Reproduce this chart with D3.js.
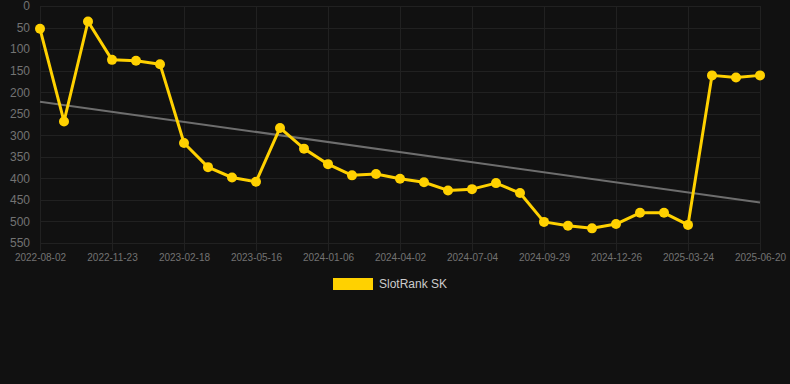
<!DOCTYPE html>
<html>
<head>
<meta charset="utf-8">
<script src="https://cdn.jsdelivr.net/npm/d3@7"></script>
<style>
  html, body { margin: 0; padding: 0; background: #111111; }
  #chart { width: 790px; height: 384px; }
</style>
</head>
<body>
<div id="chart"></div>
<script>
// category dates (x axis)
const dates = [
  "2022-08-02", "2022-09-09", "2022-10-16", "2022-11-23", "2022-12-22", "2023-01-20",
  "2023-02-18", "2023-03-19", "2023-04-17", "2023-05-16", "2023-07-28", "2023-10-17",
  "2024-01-06", "2024-02-04", "2024-03-04", "2024-04-02", "2024-05-03", "2024-06-03",
  "2024-07-04", "2024-08-02", "2024-08-31", "2024-09-29", "2024-10-28", "2024-11-27",
  "2024-12-26", "2025-01-24", "2025-02-22", "2025-03-24", "2025-04-22", "2025-05-21",
  "2025-06-20"
];

// SlotRank SK rank per date
const ranks = [
  53, 268, 36, 125, 127, 135,
  318, 374, 398, 408, 283, 331,
  367, 393, 390, 401, 409, 428,
  425, 411, 434, 501, 510, 516,
  506, 480, 480, 508, 161, 166,
  161
];

// trend line end values (first and last date)
const trend = [222, 456];

const yTicks = [0, 50, 100, 150, 200, 250, 300, 350, 400, 450, 500, 550];
const xTicks = dates.filter((d, i) => i % 3 === 0);

const width = 790, height = 384;
const plot = {left: 40, right: 760, top: 6, bottom: 243};

const svg = d3.select("#chart")
  .append("svg")
    .attr("width", width)
    .attr("height", height)
    .style("font-family", "'Liberation Sans', Arial, sans-serif");

svg.append("rect")
  .attr("width", width)
  .attr("height", height)
  .attr("fill", "#111111");

const x = d3.scalePoint()
  .domain(dates)
  .range([plot.left, plot.right]);

const y = d3.scaleLinear()
  .domain([0, 550])
  .range([plot.top, plot.bottom]);

// grid lines
const grid = svg.append("g").attr("stroke", "#212121").attr("stroke-width", 1);
grid.selectAll(".hg")
  .data(yTicks)
  .enter()
  .append("line")
    .attr("x1", plot.left)
    .attr("x2", plot.right)
    .attr("y1", d => Math.round(y(d)) + 0.5)
    .attr("y2", d => Math.round(y(d)) + 0.5);
grid.selectAll(".vg")
  .data(xTicks)
  .enter()
  .append("line")
    .attr("x1", d => Math.round(x(d)) + 0.5)
    .attr("x2", d => Math.round(x(d)) + 0.5)
    .attr("y1", plot.top)
    .attr("y2", plot.bottom + 8);

// y axis
const yAxis = svg.append("g")
  .attr("transform", "translate(" + plot.left + ",0)")
  .call(d3.axisLeft(y).tickValues(yTicks).tickSize(0).tickPadding(10));
yAxis.select(".domain").remove();
yAxis.selectAll("text")
  .attr("fill", "#737373")
  .style("font-size", "12px")
  .style("font-family", "'Liberation Sans', Arial, sans-serif");

// x axis
const xAxis = svg.append("g")
  .attr("transform", "translate(0," + plot.bottom + ")")
  .call(d3.axisBottom(x).tickValues(xTicks).tickSize(0).tickPadding(11));
xAxis.select(".domain").remove();
xAxis.selectAll("text")
  .attr("fill", "#737373")
  .style("font-size", "10px")
  .style("font-family", "'Liberation Sans', Arial, sans-serif");

// trend line
svg.append("line")
  .attr("x1", x(dates[0]))
  .attr("y1", y(trend[0]))
  .attr("x2", x(dates[dates.length - 1]))
  .attr("y2", y(trend[1]))
  .attr("stroke", "#6e6e6e")
  .attr("stroke-width", 2);

// main series
const data = dates.map((d, i) => ({date: d, rank: ranks[i]}));

svg.append("path")
  .datum(data)
  .attr("fill", "none")
  .attr("stroke", "#FFD100")
  .attr("stroke-width", 3)
  .attr("stroke-linejoin", "round")
  .attr("d", d3.line()
    .x(d => x(d.date))
    .y(d => y(d.rank)));

svg.selectAll(".pt")
  .data(data)
  .enter()
  .append("circle")
    .attr("cx", d => x(d.date))
    .attr("cy", d => y(d.rank))
    .attr("r", 5)
    .attr("fill", "#FFD100");

// legend
const legend = svg.append("g").attr("transform", "translate(333,278)");
legend.append("rect")
  .attr("width", 40)
  .attr("height", 12)
  .attr("fill", "#FFD100");
legend.append("text")
  .attr("x", 46)
  .attr("y", 6)
  .attr("dy", "0.35em")
  .attr("fill", "#cccccc")
  .style("font-size", "12px")
  .text("SlotRank SK");
</script>
</body>
</html>
